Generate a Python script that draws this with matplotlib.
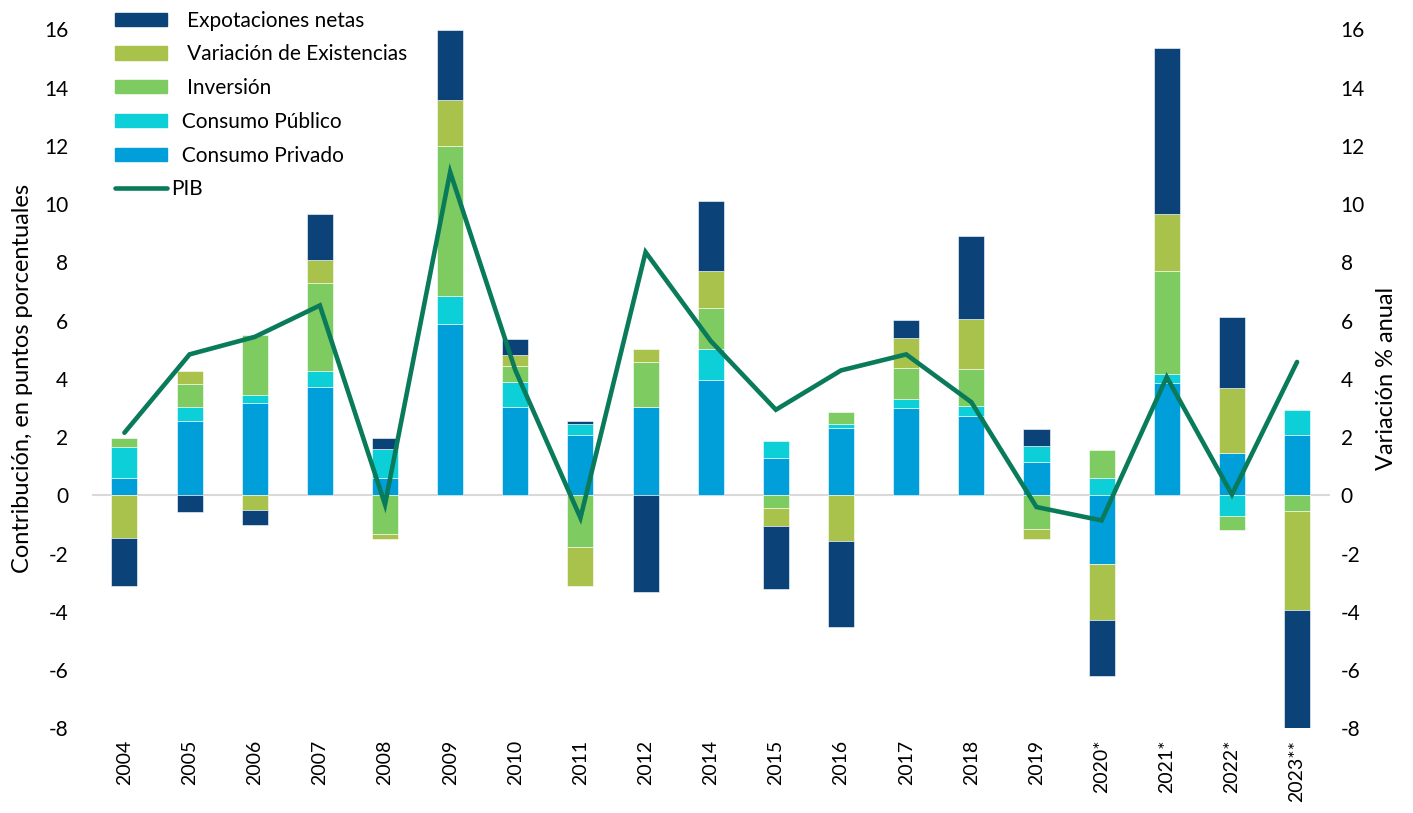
import numpy as np
import matplotlib.pyplot as plt
from matplotlib.patches import Patch
from matplotlib.lines import Line2D

plt.rcParams['font.family'] = ['Lato', 'DejaVu Sans']
plt.rcParams['axes.unicode_minus'] = False

years = ['2004', '2005', '2006', '2007', '2008', '2009', '2010', '2011', '2012', '2014',
         '2015', '2016', '2017', '2018', '2019', '2020*', '2021*', '2022*', '2023**']

consumo_privado = [0.60, 2.55, 3.17, 3.72, 0.60, 5.89, 3.03, 2.08, 3.03, 3.95,
                   1.28, 2.31, 3.00, 2.72, 1.14, -2.35, 3.86, 1.45, 2.08]
consumo_publico = [1.05, 0.48, 0.26, 0.54, 0.98, 0.94, 0.86, 0.38, 0.00, 1.09,
                   0.57, 0.15, 0.30, 0.35, 0.54, 0.60, 0.32, -0.72, 0.84]
inversion = [0.33, 0.81, 2.06, 3.03, -1.32, 5.16, 0.55, -1.77, 1.55, 1.39,
             -0.42, 0.39, 1.08, 1.28, -1.17, 0.95, 3.52, -0.48, -0.54]
var_existencias = [-1.45, 0.42, -0.50, 0.80, -0.19, 1.57, 0.39, -1.35, 0.43, 1.27,
                   -0.64, -1.57, 1.03, 1.70, -0.33, -1.94, 1.97, 2.25, -3.41]
export_netas = [-1.65, -0.57, -0.50, 1.58, 0.39, 2.43, 0.55, 0.09, -3.32, 2.40,
                -2.14, -2.95, 0.62, 2.86, 0.59, -1.91, 5.67, 2.41, -4.14]
pib = [2.15, 4.84, 5.44, 6.52, -0.31, 11.10, 4.30, -0.77, 8.35, 5.30,
       2.94, 4.29, 4.84, 3.20, -0.40, -0.86, 4.06, 0.03, 4.58]

series = [
    ('Consumo Privado', consumo_privado, '#009FD9'),
    ('Consumo Público', consumo_publico, '#0DCFD8'),
    ('Inversión', inversion, '#7ECB61'),
    ('Variación de Existencias', var_existencias, '#A8C24B'),
    ('Expotaciones netas', export_netas, '#0B4379'),
]
pib_color = '#0A7B5A'

fig = plt.figure(figsize=(14.13, 8.13), dpi=100)
ax = fig.add_axes([0.065, 0.104, 0.876, 0.86])

x = np.arange(len(years))
pos_bottom = np.zeros(len(years))
neg_bottom = np.zeros(len(years))
for name, vals, color in series:
    vals = np.array(vals)
    bottom = np.where(vals >= 0, pos_bottom, neg_bottom)
    ax.bar(x, vals, width=0.4, bottom=bottom, color=color,
           edgecolor='white', linewidth=0.4, zorder=2)
    pos_bottom += np.where(vals >= 0, vals, 0)
    neg_bottom += np.where(vals < 0, vals, 0)

ax.axhline(0, color='#D9D9D9', linewidth=1.5, zorder=1)
ax.set_xlim(-0.5, 18.5)
ax.set_ylim(-8, 16)
ax.set_yticks(range(-8, 17, 2))
ax.set_xticks(x)
ax.set_xticklabels(years, rotation=90, fontsize=14)
ax.tick_params(axis='y', length=0, labelsize=15, pad=17)
ax.tick_params(axis='x', length=0, pad=8)
for s in ax.spines.values():
    s.set_visible(False)
ax.set_ylabel('Contribución, en puntos porcentuales', fontsize=17, labelpad=8)

ax2 = ax.twinx()
ax2.plot(x, pib, color=pib_color, linewidth=3.3, solid_capstyle='round',
         solid_joinstyle='miter', zorder=3)
ax2.set_ylim(-8, 16)
ax2.set_yticks(range(-8, 17, 2))
ax2.tick_params(length=0, labelsize=15, pad=8)
for s in ax2.spines.values():
    s.set_visible(False)
ax2.set_ylabel('Variación % anual', fontsize=17, labelpad=8)

handles = [Patch(color=c) for _, _, c in series[::-1]]
handles.append(Line2D([0], [0], color=pib_color, linewidth=3.3, solid_capstyle='round'))
labels = ['   Expotaciones netas', '   Variación de Existencias', '   Inversión',
          '  Consumo Público', '  Consumo Privado', 'PIB']
fig.legend(handles, labels, loc='upper left', bbox_to_anchor=(0.068, 1.01),
           frameon=False, fontsize=15, handlelength=2.5, handleheight=0.6,
           handletextpad=0.2, labelspacing=0.66)

fig.savefig('out.png', dpi=100)
